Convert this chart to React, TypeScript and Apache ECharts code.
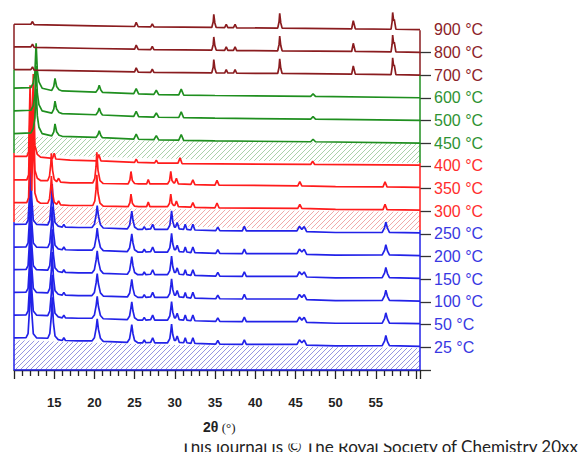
import React, { useEffect, useRef } from 'react';
import * as echarts from 'echarts';

// ---------- data ----------
const tempLabels = ['25 °C', '50 °C', '100 °C', '150 °C', '200 °C', '250 °C', '300 °C', '350 °C', '400 °C', '450 °C', '500 °C', '600 °C', '700 °C', '800 °C', '900 °C'];
const tempLevels = [1, 2, 3, 4, 5, 6, 7, 8, 9, 10, 11, 12, 13, 14, 15];
const tempGroups = ['blue', 'blue', 'blue', 'blue', 'blue', 'blue', 'red', 'red', 'red', 'green', 'green', 'green', 'darkred', 'darkred', 'darkred'];
const tempPattern = ['blue', 'blue', 'blue', 'blue', 'blue', 'blue', 'red', 'red', 'red400', 'green', 'green', 'green', 'darkred', 'darkred', 'darkred'];

const xTickLabels = [15, 20, 25, 30, 35, 40, 45, 50, 55];

// diffraction patterns: [2theta, intensity above the curve's level]
const bluePattern = [[10, 0.42], [11.5, 0.43], [11.75, 0.6], [11.95, 1.8], [12.05, 3.6], [12.2, 1.6], [12.4, 0.6], [12.8, 0.42], [14.2, 0.4], [14.45, 0.6], [14.65, 1.4], [14.75, 2.2], [14.9, 1.1], [15.1, 0.5], [15.5, 0.34], [16.0, 0.3], [16.2, 0.42], [16.4, 0.3], [18, 0.28], [19.7, 0.28], [20.0, 0.42], [20.22, 0.85], [20.35, 1.25], [20.5, 0.8], [20.75, 0.4], [21.1, 0.26], [24.1, 0.22], [24.38, 0.38], [24.55, 0.75], [24.65, 1.0], [24.8, 0.6], [25.0, 0.3], [25.4, 0.2], [26.0, 0.2], [26.2, 0.32], [26.4, 0.2], [27.0, 0.22], [27.25, 0.42], [27.5, 0.2], [29.1, 0.2], [29.38, 0.38], [29.52, 0.75], [29.6, 1.02], [29.75, 0.55], [29.95, 0.3], [30.1, 0.3], [30.3, 0.5], [30.55, 0.22], [31.1, 0.2], [31.3, 0.42], [31.5, 0.2], [32.0, 0.17], [32.25, 0.42], [32.5, 0.17], [35.1, 0.14], [35.35, 0.3], [35.6, 0.14], [38.4, 0.13], [38.65, 0.33], [38.9, 0.13], [45.2, 0.13], [45.5, 0.33], [45.8, 0.2], [46.1, 0.32], [46.4, 0.1], [50, 0.06], [55.8, 0.07], [56.1, 0.28], [56.25, 0.52], [56.45, 0.25], [56.7, 0.07], [60.5, 0.04]];
const redPattern = [[10, 0.38], [11.6, 0.38], [11.82, 0.6], [12.0, 3.3], [12.2, 0.9], [12.4, 3.8], [12.6, 0.8], [12.9, 0.45], [13.3, 0.35], [14.2, 0.35], [14.42, 0.55], [14.58, 1.1], [14.65, 1.55], [14.8, 0.8], [15.0, 0.4], [15.3, 0.3], [15.55, 0.45], [15.8, 0.28], [17, 0.25], [19.8, 0.25], [20.05, 0.45], [20.2, 0.95], [20.3, 1.6], [20.45, 0.8], [20.7, 0.35], [21.1, 0.22], [24.2, 0.2], [24.42, 0.38], [24.55, 0.75], [24.72, 0.35], [25.0, 0.22], [25.5, 0.2], [26.5, 0.2], [26.7, 0.4], [26.9, 0.2], [29.1, 0.2], [29.35, 0.35], [29.5, 0.75], [29.65, 0.35], [29.85, 0.25], [30.0, 0.25], [30.2, 0.45], [30.45, 0.2], [32.0, 0.18], [32.25, 0.38], [32.5, 0.17], [35.0, 0.15], [35.25, 0.36], [35.5, 0.15], [45.3, 0.12], [45.55, 0.3], [45.8, 0.12], [50, 0.08], [55.9, 0.07], [56.15, 0.3], [56.4, 0.07], [60.5, 0.05]];
const red400Pattern = [[10, 0.42], [11.6, 0.42], [11.82, 0.6], [12.0, 3.55], [12.2, 1.0], [12.4, 4.05], [12.6, 0.9], [12.9, 0.5], [13.3, 0.38], [14.8, 0.33], [15.0, 0.55], [15.2, 0.3], [17, 0.25], [20.3, 0.22], [20.55, 0.5], [20.8, 0.22], [25.0, 0.15], [25.2, 0.3], [25.4, 0.15], [27.5, 0.13], [27.7, 0.25], [27.9, 0.12], [30.4, 0.12], [30.65, 0.35], [30.9, 0.1], [46.9, 0.06], [47.15, 0.2], [47.4, 0.06], [60.5, 0.03]];
const greenPattern = [[10, 0.42], [12.1, 0.45], [12.4, 0.65], [12.6, 1.1], [12.75, 2.4], [12.9, 1.2], [13.1, 0.7], [13.5, 0.42], [14.7, 0.32], [14.95, 0.5], [15.1, 0.85], [15.3, 0.5], [15.6, 0.35], [16, 0.3], [20.2, 0.25], [20.45, 0.38], [20.6, 0.55], [20.8, 0.34], [21.0, 0.24], [24.9, 0.18], [25.2, 0.4], [25.5, 0.17], [27.4, 0.15], [27.7, 0.33], [28.0, 0.14], [30.5, 0.13], [30.8, 0.38], [31.1, 0.12], [35, 0.1], [46.9, 0.06], [47.2, 0.17], [47.5, 0.06], [60.5, 0.0]];
const darkredPattern = [[10, 0.24], [12.1, 0.24], [12.3, 0.36], [12.5, 0.22], [20, 0.17], [25.0, 0.14], [25.2, 0.32], [25.45, 0.13], [27.0, 0.12], [27.2, 0.26], [27.4, 0.12], [34.6, 0.1], [34.78, 0.35], [34.85, 0.68], [34.98, 0.3], [35.15, 0.1], [36.2, 0.09], [36.4, 0.24], [36.6, 0.09], [37.3, 0.09], [37.5, 0.24], [37.7, 0.08], [42.8, 0.07], [42.97, 0.35], [43.05, 0.72], [43.18, 0.3], [43.35, 0.07], [52.0, 0.04], [52.2, 0.4], [52.45, 0.04], [56.9, 0.02], [57.03, 0.35], [57.1, 0.76], [57.22, 0.4], [57.3, 0.45], [57.5, 0.02], [60.5, 0.0]];

// hatched bands (absolute levels)
const blueBandTop = [[10, 1.32], [15, 1.26], [20, 1.2], [30, 1.1], [45, 1.03], [60.5, 0.97]];
const blueBandBottom = [[10, 0], [60.5, 0]];
const redBandTop = [[10, 7.27], [15, 7.22], [25, 7.12], [40, 7.04], [60.5, 6.96]];
const redBandBottom = [[10, 6.52], [20, 6.4], [40, 6.25], [60.5, 6.17]];
const greenBandTop = [[10, 10.3], [15, 10.25], [25, 10.12], [40, 10.05], [60.5, 9.99]];
const greenBandBottom = [[10, 9.56], [20, 9.4], [40, 9.22], [60.5, 9.12]];

// panel borders (absolute levels)
const darkredBorderL = [[10, 15.24], [10, 13.24]];
const darkredBorderR = [[60.5, 14.98], [60.5, 12.98]];
const greenBorderL = [[10, 13.24], [10, 9.56]];
const greenBorderR = [[60.5, 12.98], [60.5, 9.12]];
const redBorderL = [[10, 9.56], [10, 6.52]];
const redBorderR = [[60.5, 9.12], [60.5, 6.17]];
const blueBorderL = [[10, 6.52], [10, 0]];
const blueBorderR = [[60.5, 6.17], [60.5, 0]];
const blueBorderB = [[10, 0], [60.5, 0]];

const rightTickValues = [0, 1, 2, 3, 4, 5, 6, 7, 8, 9, 10, 11, 12, 13, 14];

// ---------- styles ----------
const lineColors: Record<string, string> = { blue: '#2222e8', red: '#ff1c1c', green: '#1f8f1f', darkred: '#8a1c1f' };
const labelColors: Record<string, string> = { blue: '#3838e2', red: '#ff2d2d', green: '#2e9232', darkred: '#8c2228' };
const hatchColors: Record<string, string> = { blue: '#8a8ade', red: '#eea0a0', green: '#a2cca2' };

const patterns: Record<string, number[][]> = {
  blue: bluePattern, red: redPattern, red400: red400Pattern, green: greenPattern, darkred: darkredPattern,
};

function makeHatch(color: string) {
  const c = document.createElement('canvas');
  c.width = 5; c.height = 5;
  const g = c.getContext('2d')!;
  g.strokeStyle = color;
  g.lineWidth = 0.9;
  g.beginPath();
  g.moveTo(0, 5); g.lineTo(5, 0);
  g.moveTo(-1, 1); g.lineTo(1, -1);
  g.moveTo(4, 6); g.lineTo(6, 4);
  g.stroke();
  return { image: c, repeat: 'repeat' };
}

export default function App() {
  const ref = useRef<HTMLDivElement>(null);
  useEffect(() => {
    if (!ref.current) return;
    const chart = echarts.init(ref.current, null, { renderer: 'svg' });

    const bands = [
      { key: 'blue', top: blueBandTop, bottom: blueBandBottom },
      { key: 'red', top: redBandTop, bottom: redBandBottom },
      { key: 'green', top: greenBandTop, bottom: greenBandBottom },
    ];
    const bandSeries = bands.map((b) => {
      const fill = makeHatch(hatchColors[b.key]);
      return {
        type: 'custom',
        silent: true,
        data: [[30, 1]],
        z: 1,
        renderItem: (_p: any, api: any) => {
          const pts = b.top.map((p) => api.coord(p)).concat(b.bottom.slice().reverse().map((p) => api.coord(p)));
          return { type: 'polygon', shape: { points: pts }, style: { fill } };
        },
      };
    });

    const curveSeries = tempLabels.map((t, i) => ({
      type: 'line',
      name: t,
      data: patterns[tempPattern[i]].map(([x, y]) => [x, tempLevels[i] + y]),
      symbol: 'none',
      silent: true,
      z: 2,
      lineStyle: { color: lineColors[tempGroups[i]], width: 1.7 },
    }));

    const borders: [number[][], string][] = [
      [blueBorderL, 'blue'], [blueBorderR, 'blue'], [blueBorderB, 'blue'],
      [redBorderL, 'red'], [redBorderR, 'red'],
      [greenBorderL, 'green'], [greenBorderR, 'green'],
      [darkredBorderL, 'darkred'], [darkredBorderR, 'darkred'],
    ];
    const borderSeries = borders.map(([d, k]) => ({
      type: 'line',
      data: d,
      symbol: 'none',
      silent: true,
      clip: false,
      z: 3,
      lineStyle: { color: lineColors[k], width: 1.5 },
    }));

    chart.setOption({
      animation: false,
      grid: { left: 14, right: 159, top: 7, bottom: 82 },
      xAxis: {
        type: 'value',
        min: 10,
        max: 60.5,
        interval: 5,
        offset: 12,
        axisLine: { show: true, lineStyle: { color: '#222', width: 1.3 } },
        axisTick: { show: true, length: 9, lineStyle: { color: '#222', width: 1.3 } },
        minorTick: { show: true, splitNumber: 5, length: 6, lineStyle: { color: '#222', width: 1.3 } },
        splitLine: { show: false },
        axisLabel: {
          margin: 14,
          fontSize: 13,
          fontWeight: 'bold',
          fontFamily: 'Liberation Sans',
          color: '#222',
          formatter: (v: number) => (xTickLabels.indexOf(v) >= 0 ? String(v) : ''),
        },
      },
      yAxis: [
        { type: 'value', min: 0, max: 16, show: false },
        {
          type: 'value',
          min: 0,
          max: 16,
          position: 'right',
          axisLine: { show: false },
          splitLine: { show: false },
          axisTick: { show: true, length: 11, customValues: rightTickValues, lineStyle: { color: '#333', width: 1.3 } },
          axisLabel: {
            margin: 14,
            fontSize: 16,
            fontFamily: 'Liberation Sans',
            customValues: tempLevels,
            formatter: (v: number) => tempLabels[tempLevels.indexOf(v)] || '',
            color: (v: any) => {
              const idx = tempLevels.indexOf(Number(v));
              return idx >= 0 ? labelColors[tempGroups[idx]] : '#333';
            },
          },
        },
      ],
      series: [...bandSeries, ...curveSeries, ...borderSeries],
      graphic: [
        {
          type: 'text',
          x: 578,
          y: 455,
          style: {
            text: 'This journal is © The Royal Society of Chemistry 20xx',
            font: '17px Lato',
            fill: '#222',
            align: 'right',
            verticalAlign: 'bottom',
          },
          z: 10,
        },
        { type: 'rect', shape: { x: 0, y: 430, width: 440, height: 13.5 }, style: { fill: '#fff' }, z: 11 },
        {
          type: 'text',
          x: 203,
          y: 420,
          style: {
            text: '{b|2θ} {n|(°)}',
            rich: {
              b: { font: 'bold 14px Liberation Sans', fill: '#222' },
              n: { font: '13px Liberation Serif', fill: '#222' },
            },
          },
          z: 12,
        },
      ],
    });
    return () => chart.dispose();
  }, []);
  return <div ref={ref} style={{ position: 'fixed', left: 0, top: 0, width: 579, height: 452, background: '#fff' }} />;
}
